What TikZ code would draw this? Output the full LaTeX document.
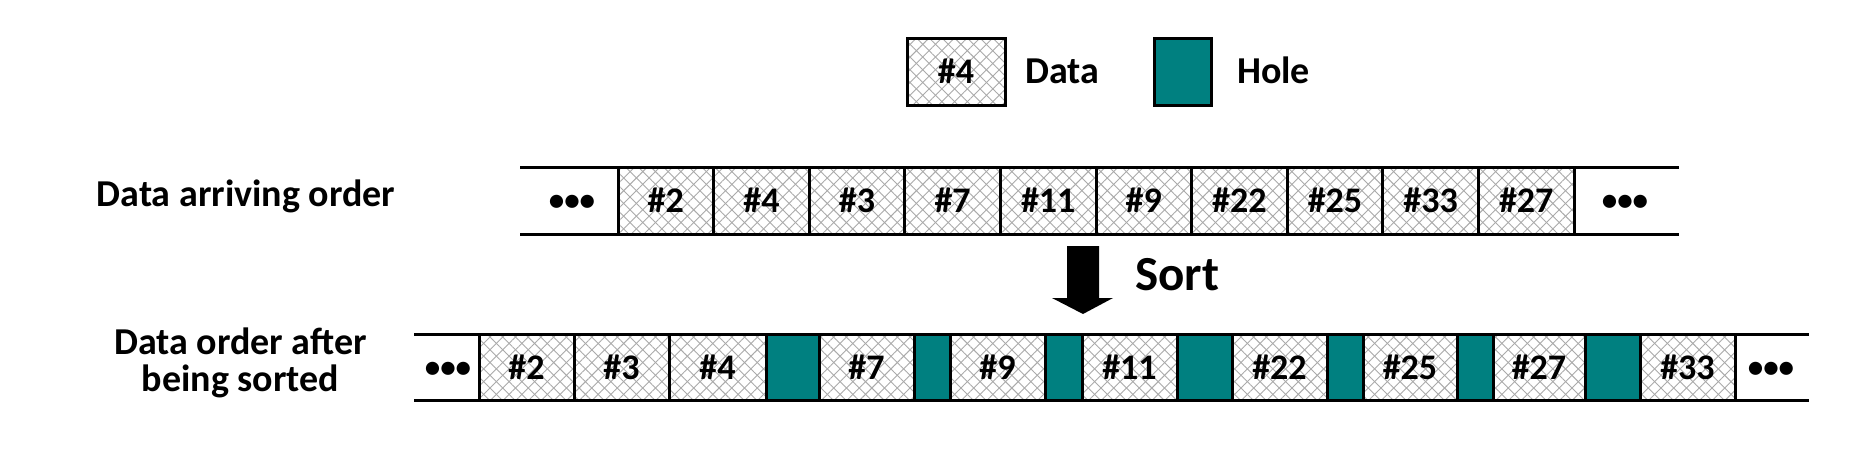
\documentclass[tikz,border=0pt]{standalone}
\usepackage{fontspec}
\setmainfont{Carlito}
\usetikzlibrary{patterns.meta}
\definecolor{holeteal}{RGB}{0,128,128}
\definecolor{hatchgray}{RGB}{170,170,170}
\tikzset{
  txt/.style={font=\fontsize{38}{37}\selectfont\bfseries, inner sep=0pt},
  celltxt/.style={font=\fontsize{36}{38}\selectfont\bfseries},
  dotstxt/.style={font=\fontsize{31}{33}\selectfont\bfseries, inner sep=0pt},
  cellbase/.style={draw=black, line width=3pt, inner sep=0pt, minimum height=67pt},
  databox/.style={cellbase, celltxt, fill=white,
    postaction={pattern={Lines[angle=45,distance=9pt,line width=0.9pt]}, pattern color=hatchgray},
    postaction={pattern={Lines[angle=-45,distance=9pt,line width=0.9pt]}, pattern color=hatchgray},
    postaction={draw=black, line width=3pt}},
  holebox/.style={cellbase, fill=holeteal},
  rowline/.style={line width=3pt},
  blockarrow/.style={fill=black}
}
\begin{document}
\begin{tikzpicture}[x=1pt,y=-1pt]
\useasboundingbox (0,0) rectangle (1854,458);
% legend
\node[databox, minimum width=98pt] (legdata) at (956,71.5) {\#4};
\node[txt, anchor=base west] (legdatatxt) at (1025,83) {Data};
\node[holebox, minimum width=57pt] (leghole) at (1182.5,71.5) {};
\node[txt, anchor=base west] (legholetxt) at (1237,83) {Hole};
% row labels
\node[txt, anchor=base] (toplabel) at (246,206) {Data arriving order};
\node[txt, anchor=base, align=center] (botlabel) at (240.5,391) {Data order after\\being sorted};
% top row lines
\coordinate (tlt) at (520,167);
\coordinate (trt) at (1679,167);
\coordinate (tlb) at (520,234);
\coordinate (trb) at (1679,234);
\draw[rowline] (tlt) -- (trt);
\draw[rowline] (tlb) -- (trb);
% top row cells
\foreach \lab [count=\i] in {2,4,3,7,11,9,22,25,33,27}{
  \node[databox, minimum width=95.6pt] (t\i) at ({618+95.6*(\i-0.5)},200.5) {\#\lab};
}
\node[dotstxt] (tdl) at (572,203) {•••};
\node[dotstxt] (tdr) at (1625,203) {•••};
% bottom row lines
\coordinate (blt) at (414,334);
\coordinate (brt) at (1809,334);
\coordinate (blb) at (414,400);
\coordinate (brb) at (1809,400);
\draw[rowline] (blt) -- (brt);
\draw[rowline] (blb) -- (brb);
% bottom data cells
\foreach \l/\r/\lab [count=\i] in {479/574/2, 574/669/3, 669/766/4, 819/914/7, 950/1045/9, 1082/1177/11, 1232/1327/22, 1363/1457/25, 1493/1585/27, 1640/1735/33}{
  \node[databox, minimum width={(\r-\l)*1pt}, minimum height=66pt] (b\i) at ({(\l+\r)/2},367) {\#\lab};
}
% holes
\foreach \l/\r [count=\i] in {766/819, 914/950, 1045/1082, 1177/1232, 1327/1363, 1457/1493, 1585/1640}{
  \node[holebox, minimum width={(\r-\l)*1pt}, minimum height=66pt] (h\i) at ({(\l+\r)/2},367) {};
}
\node[dotstxt] (bdl) at (448,369.5) {•••};
\node[dotstxt] (bdr) at (1771,369.5) {•••};
% sort arrow
\fill[blockarrow] (1067,246) -- (1099,246) -- (1099,298) -- (1113,298) -- (1083,314) -- (1052,298) -- (1067,298) -- cycle;
\node[font=\fontsize{49}{51}\selectfont\bfseries, inner sep=0pt, anchor=base west] (sort) at (1135,290) {Sort};
\end{tikzpicture}
\end{document}
